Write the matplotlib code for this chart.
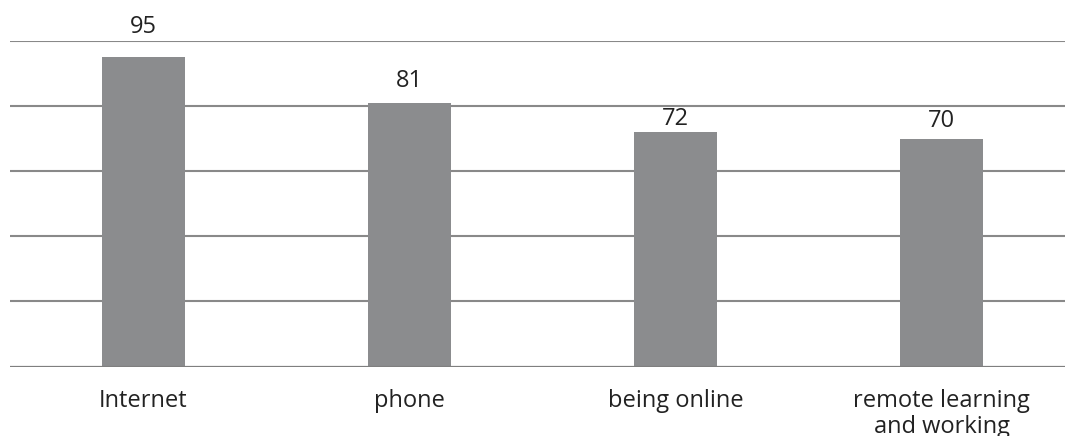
import matplotlib
matplotlib.use("Agg")
import matplotlib.pyplot as plt
from matplotlib.transforms import offset_copy

categories = ["Internet", "phone", "being online", "remote learning\nand working"]
values = [95, 81, 72, 70]
label_offsets_px = [24, 16, 7, 12]

W, H, DPI = 1065, 436, 100
fig = plt.figure(figsize=(W / DPI, H / DPI), dpi=DPI)
ax = fig.add_axes([10 / W, (H - 366.5) / H, (W - 10) / W, 325.5 / H])

bar_color = "#8b8c8e"
grid_color = "#898989"
base_color = "#7f7f7f"
text_color = "#222222"
font = "Open Sans"
fsize = 17

x = list(range(len(categories)))
ax.bar(x, values, width=0.312, color=bar_color, zorder=2)

ax.set_ylim(0, 100)
ax.set_xlim(-0.502, 3.464)
for yv in [20, 40, 60, 80, 100]:
    ax.axhline(yv, color=grid_color, lw=1.5, zorder=1)
ax.axhline(0, color=base_color, lw=1.6, zorder=3)

for s in ax.spines.values():
    s.set_visible(False)
ax.set_yticks([])
ax.set_xticks(x)
ax.set_xticklabels(categories, fontsize=fsize, family=font, color=text_color,
                   linespacing=1.15)
ax.tick_params(axis="x", length=0, pad=16)

for xi, v, off in zip(x, values, label_offsets_px):
    tr = offset_copy(ax.transData, fig=fig, x=0, y=off, units="dots")
    ax.text(xi, v, str(v), transform=tr, ha="center", va="baseline",
            fontsize=fsize, family=font, color=text_color)

fig.savefig("out.png", dpi=DPI)
